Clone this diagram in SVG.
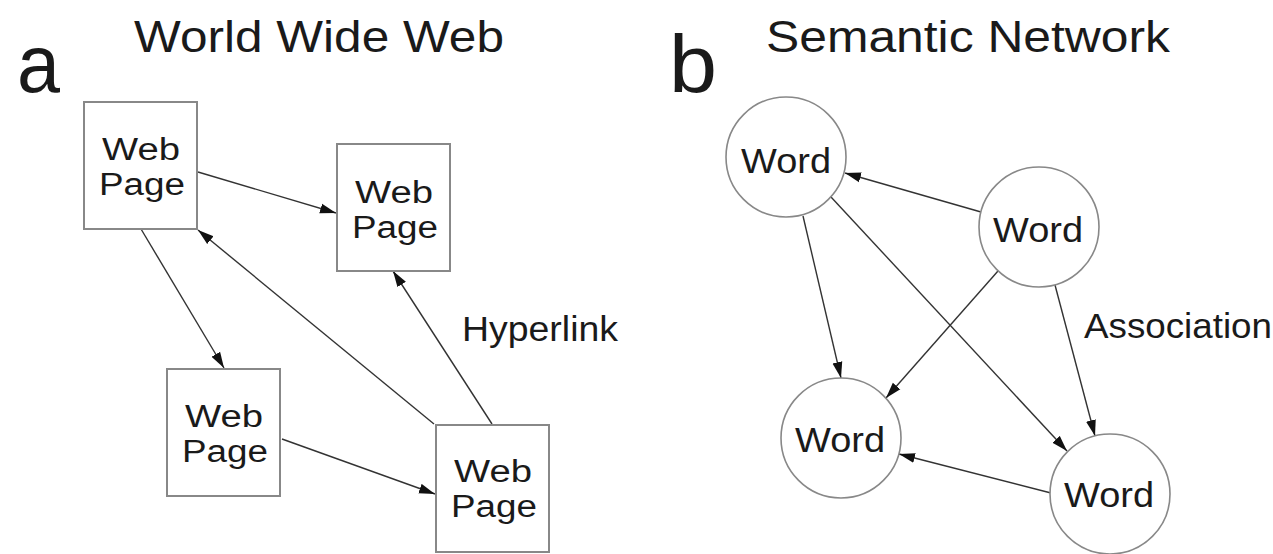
<svg xmlns="http://www.w3.org/2000/svg" width="1273" height="554" viewBox="0 0 1273 554">
<style>
text{font-family:"Liberation Sans",Arial,sans-serif;fill:#1a1a1a}
.title{font-size:44px;text-anchor:middle}
.big{font-size:82px}
.node{font-size:35px;text-anchor:middle}
.pg{font-size:31px;text-anchor:middle}
.lbl{font-size:35px}
.box{fill:#fff;stroke:#888;stroke-width:2}
.circ{fill:#fff;stroke:#888;stroke-width:1.6}
.conn line{stroke:#333;stroke-width:1.4;marker-end:url(#ah)}
</style>
<defs>
<marker id="ah" markerUnits="userSpaceOnUse" markerWidth="18" markerHeight="12" refX="16" refY="5.5" orient="auto">
<path d="M0,0.5 L16,5.5 L0,10.5 z" fill="#111"/>
</marker>
</defs>
<rect width="1273" height="554" fill="#fff"/>
<g id="panel-a-labels">
<text class="big" x="17" y="92" textLength="43" lengthAdjust="spacingAndGlyphs">a</text>
<text class="title" x="319" y="52" textLength="370" lengthAdjust="spacingAndGlyphs">World Wide Web</text>
<text class="lbl" x="462" y="341" textLength="156" lengthAdjust="spacingAndGlyphs">Hyperlink</text>
</g>
<g id="panel-b-labels">
<text class="big" x="669" y="92" textLength="48" lengthAdjust="spacingAndGlyphs">b</text>
<text class="title" x="968" y="52" textLength="404" lengthAdjust="spacingAndGlyphs">Semantic Network</text>
<text class="lbl" x="1084" y="338" textLength="188" lengthAdjust="spacingAndGlyphs">Association</text>
</g>
<g id="connectors" class="conn">
<line x1="198" y1="172" x2="336" y2="213"/>
<line x1="141" y1="229" x2="224" y2="368"/>
<line x1="434" y1="424" x2="198" y2="230"/>
<line x1="492" y1="424" x2="393" y2="271"/>
<line x1="282" y1="439" x2="435" y2="494"/>
<line x1="981" y1="212" x2="845" y2="173"/>
<line x1="803" y1="216" x2="841" y2="378"/>
<line x1="831" y1="197" x2="1067" y2="451"/>
<line x1="998" y1="271" x2="886" y2="398"/>
<line x1="1055" y1="285" x2="1095" y2="436"/>
<line x1="1051" y1="493" x2="899" y2="454"/>
</g>
<g id="page1"><rect class="box" x="84" y="102" width="113" height="127"/><text class="pg" x="141" y="160" textLength="78" lengthAdjust="spacingAndGlyphs">Web</text><text class="pg" x="142" y="195" textLength="86" lengthAdjust="spacingAndGlyphs">Page</text></g>
<g id="page2"><rect class="box" x="337" y="144" width="113" height="127"/><text class="pg" x="394" y="203" textLength="78" lengthAdjust="spacingAndGlyphs">Web</text><text class="pg" x="395" y="238" textLength="86" lengthAdjust="spacingAndGlyphs">Page</text></g>
<g id="page3"><rect class="box" x="167" y="369" width="113" height="127"/><text class="pg" x="224" y="427" textLength="78" lengthAdjust="spacingAndGlyphs">Web</text><text class="pg" x="225" y="462" textLength="86" lengthAdjust="spacingAndGlyphs">Page</text></g>
<g id="page4"><rect class="box" x="436" y="425" width="113" height="127"/><text class="pg" x="493" y="482" textLength="78" lengthAdjust="spacingAndGlyphs">Web</text><text class="pg" x="494" y="517" textLength="86" lengthAdjust="spacingAndGlyphs">Page</text></g>
<g id="word1"><circle class="circ" cx="786" cy="157" r="60"/><text class="node" x="786" y="173" textLength="90" lengthAdjust="spacingAndGlyphs">Word</text></g>
<g id="word2"><circle class="circ" cx="1039" cy="227" r="60"/><text class="node" x="1038" y="242" textLength="90" lengthAdjust="spacingAndGlyphs">Word</text></g>
<g id="word3"><circle class="circ" cx="841" cy="438" r="60"/><text class="node" x="840" y="452" textLength="90" lengthAdjust="spacingAndGlyphs">Word</text></g>
<g id="word4"><circle class="circ" cx="1110" cy="494" r="60"/><text class="node" x="1109" y="507" textLength="90" lengthAdjust="spacingAndGlyphs">Word</text></g>
</svg>
